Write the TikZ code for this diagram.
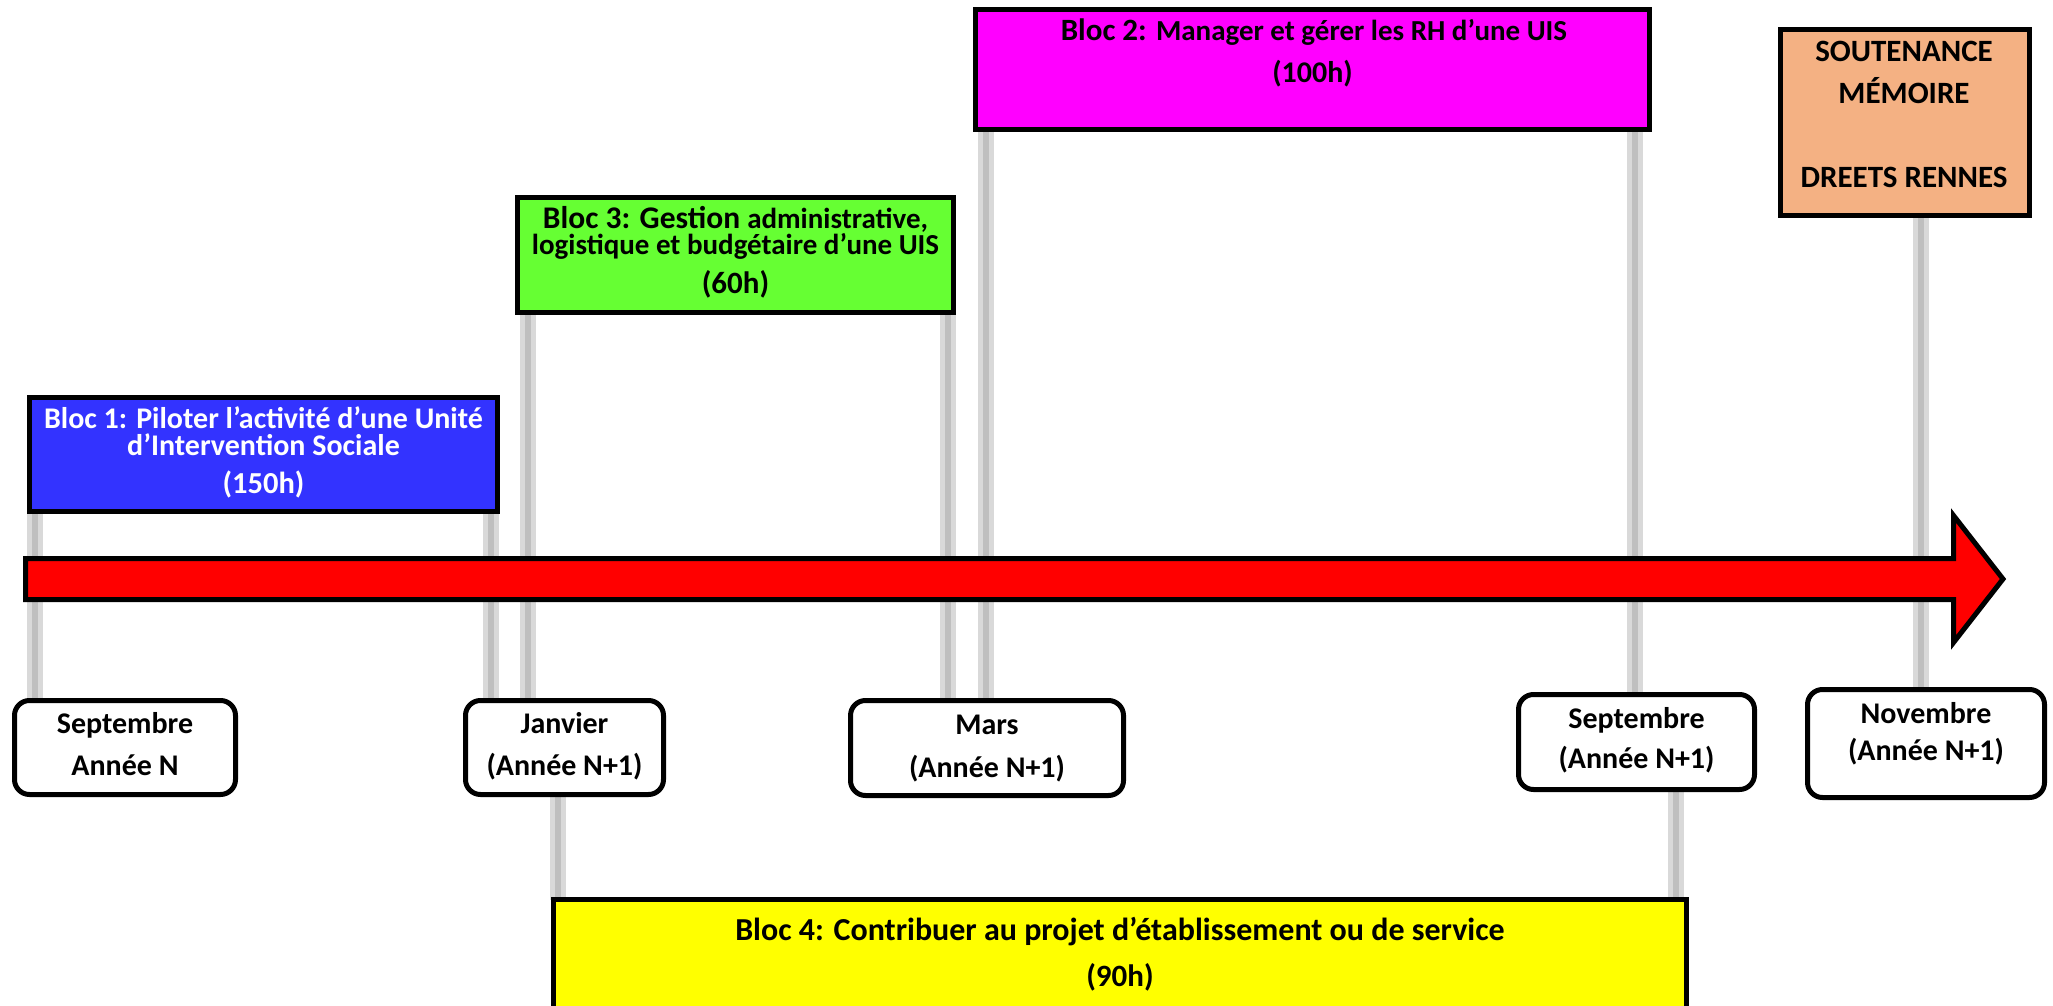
\documentclass[tikz,border=0pt]{standalone}
\usepackage{fontspec}
\setmainfont{Carlito}
\usetikzlibrary{backgrounds}
\definecolor{bblue}{RGB}{51,51,255}
\definecolor{bgreen}{RGB}{102,255,51}
\definecolor{bmag}{RGB}{255,0,255}
\definecolor{borange}{RGB}{244,177,131}
\definecolor{byellow}{RGB}{255,255,0}
\definecolor{bred}{RGB}{255,0,0}
\definecolor{glight}{RGB}{217,217,217}
\definecolor{gdark}{RGB}{191,191,191}
\newcommand\fsz[1]{\fontsize{#1}{#1}\selectfont}
\begin{document}
\begin{tikzpicture}[x=1pt,y=-1pt,
  bloc/.style={draw=black, line width=5pt, rectangle, inner sep=0pt, outer sep=0pt},
  datebox/.style={draw=black, line width=5pt, fill=white, rounded corners=15pt, inner sep=0pt, outer sep=0pt},
  txt/.style={anchor=base, inner sep=0pt, font=\bfseries},
  datetxt/.style={txt, font=\bfseries\fsz{30}},
  conn/.style={draw=glight, line width=5pt, double=gdark, double distance=6pt}]
\useasboundingbox (0,0) rectangle (2053,1006);
\clip (0,0) rectangle (2053,1006);

% blocs
\node[bloc, fill=bblue, minimum width=468, minimum height=114] (b1) at (263.5,454.5) {};
\node[bloc, fill=bgreen, minimum width=436, minimum height=115] (b3) at (735.5,255) {};
\node[bloc, fill=bmag, minimum width=674, minimum height=120] (b2) at (1312.5,69.5) {};
\node[bloc, fill=borange, minimum width=249, minimum height=186] (bs) at (1905,122.5) {};
\node[bloc, fill=byellow, minimum width=1133, minimum height=138] (b4) at (1120,968.5) {};

% dates
\node[datebox, minimum width=221, minimum height=94] (d1) at (125,747.5) {};
\node[datebox, minimum width=198, minimum height=94] (d2) at (564.5,747.5) {};
\node[datebox, minimum width=273, minimum height=95] (d3) at (987,748) {};
\node[datebox, minimum width=236, minimum height=95] (d4) at (1636.5,742) {};
\node[datebox, minimum width=237, minimum height=108] (d5) at (1926,743.5) {};

% connectors
\begin{scope}[on background layer]
\draw[conn] (35,0 |- b1.south) -- (35,0 |- d1.north);
\draw[conn] (491,0 |- b1.south) -- (491,0 |- d2.north);
\draw[conn] (528,0 |- b3.south) -- (528,0 |- d2.north);
\draw[conn] (948,0 |- b3.south) -- (948,0 |- d3.north);
\draw[conn] (986,0 |- b2.south) -- (986,0 |- d3.north);
\draw[conn] (1635,0 |- b2.south) -- (1635,0 |- d4.north);
\draw[conn] (1921,0 |- bs.south) -- (1921,0 |- d5.north);
\draw[conn] (558,0 |- d2.south) -- (558,0 |- b4.north);
\draw[conn] (1676,0 |- d4.south) -- (1676,0 |- b4.north);
\end{scope}

% timeline arrow
\draw[line width=5pt, fill=bred, line join=miter]
  (25.5,558.5) -- (1953.5,558.5) -- (1953.5,515.5) -- (2003,579)
  -- (1953.5,642.5) -- (1953.5,599.5) -- (25.5,599.5) -- cycle;

% texts
\node[txt, text=white, font=\bfseries\fsz{30}] (t1a) at (263.5,428) {Bloc 1: Piloter l’activité d’une Unité};
\node[txt, text=white, font=\bfseries\fsz{30}] (t1b) at (263.5,455) {d’Intervention Sociale};
\node[txt, text=white, font=\bfseries\fsz{30.5}] (t1c) at (263.5,493) {(150h)};

\node[txt] (t3a) at (735.5,228) {{\fsz{31.5}Bloc 3: Gestion }{\fsz{29}administrative,}};
\node[txt, font=\bfseries\fsz{29}] (t3b) at (735.5,254) {logistique et budgétaire d’une UIS};
\node[txt, font=\bfseries\fsz{31}] (t3c) at (735.5,293) {(60h)};

\node[txt] (t2a) at (1314,41) {{\fsz{31}Bloc 2: }{\fsz{29}Manager et gérer les RH d’une UIS}};
\node[txt, font=\bfseries\fsz{30}] (t2b) at (1312.5,83) {(100h)};

\node[txt, font=\bfseries\fsz{31}] (tsa) at (1904,62) {SOUTENANCE};
\node[txt, font=\bfseries\fsz{31}] (tsb) at (1904,104) {MÉMOIRE};
\node[txt, font=\bfseries\fsz{31}] (tsc) at (1904,187) {DREETS RENNES};

\node[txt, font=\bfseries\fsz{32}] (t4a) at (1120,940) {Bloc 4: Contribuer au projet d’établissement ou de service};
\node[txt, font=\bfseries\fsz{31}] (t4b) at (1120,986) {(90h)};

\node[datetxt] (td1a) at (125,733) {Septembre};
\node[datetxt] (td1b) at (125,775) {Année N};
\node[datetxt] (td2a) at (564.5,733) {Janvier};
\node[datetxt] (td2b) at (564.5,775) {(Année N+1)};
\node[datetxt] (td3a) at (987,734) {Mars};
\node[datetxt] (td3b) at (987,777) {(Année N+1)};
\node[datetxt] (td4a) at (1636.5,728) {Septembre};
\node[datetxt] (td4b) at (1636.5,768) {(Année N+1)};
\node[datetxt] (td5a) at (1926,723) {Novembre};
\node[datetxt] (td5b) at (1926,760) {(Année N+1)};
\end{tikzpicture}
\end{document}
